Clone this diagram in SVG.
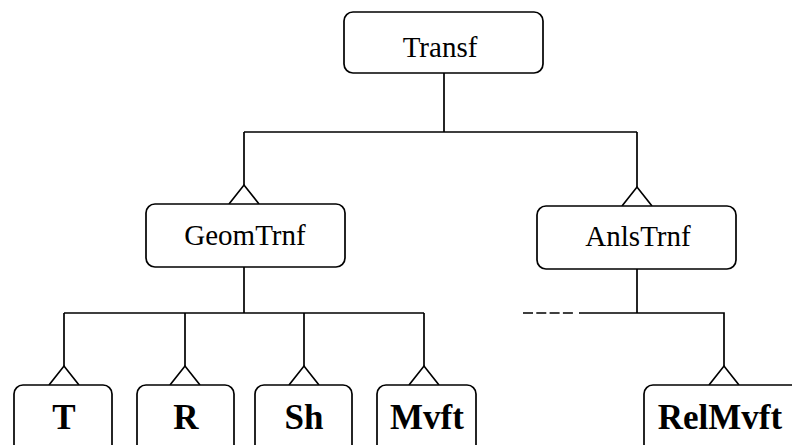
<svg xmlns="http://www.w3.org/2000/svg" width="792" height="445" viewBox="0 0 792 445">
<defs>
<style>
.box{fill:#fff;stroke:#000;stroke-width:1.7}
.ln{fill:none;stroke:#000;stroke-width:1.7}
.tri{fill:#fff;stroke:#000;stroke-width:1.7;stroke-linejoin:miter}
text{font-family:'Liberation Serif','Times New Roman',Tinos,serif;text-anchor:middle;fill:#000}
.t{font-size:29px;font-weight:normal}
.b{font-size:35px;font-weight:bold}
</style>
</defs>
<rect width="792" height="445" fill="#fff"/>
<g id="connectors">
<path class="ln" d="M444 73 V132 M244 132 H637 M244 132 V185 M637 132 V187"/>
<path class="ln" d="M244 267 V313 M64 313 H424 M64 313 V366 M185 313 V366 M304 313 V366 M424 313 V366"/>
<path class="ln" d="M637 269 V313 M579 313 H724 V366"/>
<path class="ln" d="M523 313 H573" stroke-dasharray="10 3.3"/>
<path class="tri" d="M229 204 L244 185 L259 204"/>
<path class="tri" d="M622 206 L637 187 L652 206"/>
<path class="tri" d="M49 385 L64 366 L79 385"/>
<path class="tri" d="M170 385 L185 366 L200 385"/>
<path class="tri" d="M289 385 L304 366 L319 385"/>
<path class="tri" d="M409 385 L424 366 L439 385"/>
<path class="tri" d="M709 385 L724 366 L739 385"/>
</g>
<g id="Transf"><rect class="box" x="344" y="12" width="199" height="61" rx="9"/><text class="t" x="440" y="57" font-family="Liberation Serif">Transf</text></g>
<g id="GeomTrnf"><rect class="box" x="146" y="204" width="199" height="63" rx="9"/><text class="t" x="245" y="245" font-family="Liberation Serif">GeomTrnf</text></g>
<g id="AnlsTrnf"><rect class="box" x="537" y="206" width="199" height="63" rx="9"/><text class="t" x="638" y="246" font-family="Liberation Serif">AnlsTrnf</text></g>
<g id="T"><rect class="box" x="14" y="385" width="98" height="75" rx="9"/><text class="b" x="64" y="429">T</text></g>
<g id="R"><rect class="box" x="137" y="385" width="97" height="75" rx="9"/><text class="b" x="186" y="429">R</text></g>
<g id="Sh"><rect class="box" x="255" y="385" width="97" height="75" rx="9"/><text class="b" x="304" y="429">Sh</text></g>
<g id="Mvft"><rect class="box" x="377" y="385" width="99" height="75" rx="9"/><text class="b" x="427" y="429">Mvft</text></g>
<g id="RelMvft"><rect class="box" x="644" y="385" width="170" height="75" rx="9"/><text class="b" x="720" y="429">RelMvft</text></g>
</svg>
